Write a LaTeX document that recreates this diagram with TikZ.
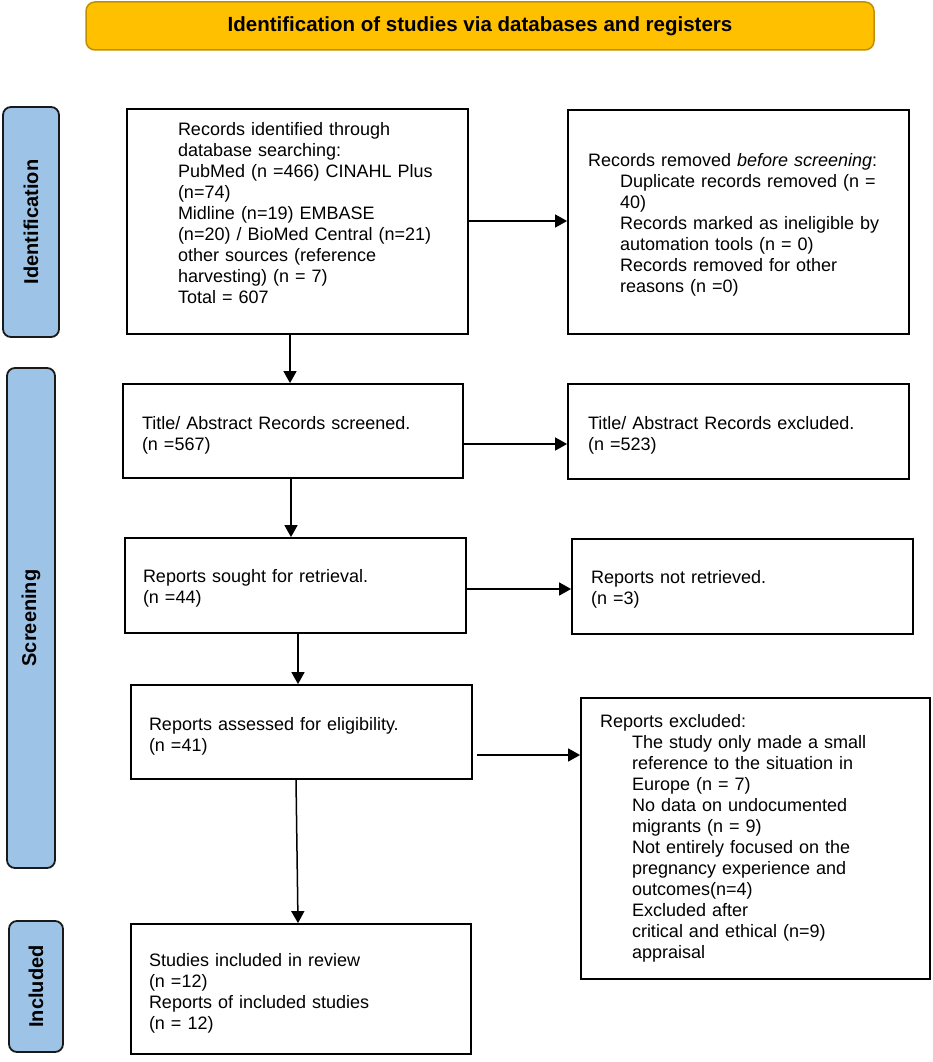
\documentclass[tikz,border=0pt]{standalone}
\usepackage{fontspec}
\setmainfont{Liberation Sans}
\usetikzlibrary{arrows.meta}
\definecolor{bannerfill}{HTML}{FFC000}
\definecolor{bannerline}{HTML}{BF9000}
\definecolor{phasefill}{HTML}{9DC3E6}
\newcommand{\topgap}[1]{\rule{0pt}{#1}}
\newcommand{\botgap}[1]{\rule[-#1]{0pt}{0pt}}
\begin{document}
\begin{tikzpicture}[x=1pt,y=-1pt,
  flowbox/.style={draw=black, line width=1.8pt, fill=white, text width=#1,
    inner xsep=0pt, inner ysep=0pt, align=left,
    font=\fontsize{18}{21}\selectfont},
  phase/.style={draw=black!90, line width=1.8pt, fill=phasefill, rounded corners=8pt,
    rotate=90, inner sep=0pt, font=\fontsize{20}{24}\selectfont\bfseries},
  banner/.style={draw=bannerline, line width=1.5pt, fill=bannerfill, rounded corners=9pt,
    inner sep=0pt, font=\fontsize{20.5}{24}\selectfont\bfseries},
  arr/.style={line width=1.5pt, -{Triangle[length=12pt,width=13pt]}}
]
\useasboundingbox (0,0) rectangle (932,1062);

% banner
\node[banner, minimum width=788, minimum height=48] (ban) at (480,26)
  {Identification of studies via databases and registers};

% phase labels
\node[phase, minimum width=230, minimum height=56] (pid) at (31,222) {Identification};
\node[phase, minimum width=500, minimum height=48] (pscr) at (31,618) {Screening};
\node[phase, minimum width=131, minimum height=54] (pinc) at (36,986.5) {Included};

% boxes
\node[flowbox=341, minimum height=225] (A) at (297.5,221.5)
  {\leftskip=51pt Records identified through\\
   database searching:\\
   PubMed (n =466) CINAHL Plus\\
   (n=74)\\
   Midline (n=19) EMBASE\\
   (n=20) / BioMed Central (n=21)\\
   other sources (reference\\
   harvesting) (n = 7)\\
   Total = 607\botgap{18pt}\par};

\node[flowbox=341, minimum height=224] (B) at (738.5,222)
  {\leftskip=20pt \topgap{19.5pt}Records removed \textit{before screening}:\par
   \leftskip=52pt Duplicate records removed (n =\\
   40)\\
   Records marked as ineligible by\\
   automation tools (n = 0)\\
   Records removed for other\\
   reasons (n =0)\par};

\node[flowbox=340, minimum height=94] (C) at (293,431)
  {\leftskip=19pt \topgap{21pt}Title/ Abstract Records screened.\\
   (n =567)\par};

\node[flowbox=341, minimum height=95] (D) at (738.5,431.5)
  {\leftskip=20pt \topgap{21pt}Title/ Abstract Records excluded.\\
   (n =523)\par};

\node[flowbox=341, minimum height=95] (E) at (295.5,585.5)
  {\leftskip=18pt \topgap{19.5pt}Reports sought for retrieval.\\
   (n =44)\par};

\node[flowbox=341, minimum height=95] (F) at (742.5,586.5)
  {\leftskip=19pt \topgap{19.5pt}Reports not retrieved.\\
   (n =3)\par};

\node[flowbox=341, minimum height=94] (G) at (301.5,732)
  {\leftskip=18pt \topgap{21pt}Reports assessed for eligibility.\\
   (n =41)\par};

\node[flowbox=349, minimum height=281] (H) at (755.5,838.5)
  {\leftskip=19pt Reports excluded:\par
   \leftskip=51pt The study only made a small\\
   reference to the situation in\\
   Europe (n = 7)\\
   No data on undocumented\\
   migrants (n = 9)\\
   Not entirely focused on the\\
   pregnancy experience and\\
   outcomes(n=4)\\
   Excluded after\\
   critical and ethical (n=9)\\
   appraisal\par};

\node[flowbox=340, minimum height=130] (I) at (301,989)
  {\leftskip=18pt \topgap{21pt}Studies included in review\\
   (n =12)\\
   Reports of included studies\\
   (n = 12)\par};

% helper coordinates for connector lines
\coordinate (yAB) at (0,221);
\coordinate (xAC) at (290,0);
\coordinate (yCD) at (0,444);
\coordinate (xCE) at (291,0);
\coordinate (yEF) at (0,589);
\coordinate (xEG) at (298,0);
\coordinate (yGH) at (0,755);
\coordinate (xGI1) at (296,0);
\coordinate (xGI2) at (298,0);

% connectors
\draw[arr] (A.east |- yAB) -- (B.west |- yAB);
\draw[arr] (A.south -| xAC) -- (C.north -| xAC);
\draw[arr] (C.east |- yCD) -- (D.west |- yCD);
\draw[arr] (C.south -| xCE) -- (E.north -| xCE);
\draw[arr] (E.east |- yEF) -- (F.west |- yEF);
\draw[arr] (E.south -| xEG) -- (G.north -| xEG);
\draw[arr, shorten <=4pt] (G.east |- yGH) -- (H.west |- yGH);
\draw[arr] (G.south -| xGI1) -- (I.north -| xGI2);
\end{tikzpicture}
\end{document}
